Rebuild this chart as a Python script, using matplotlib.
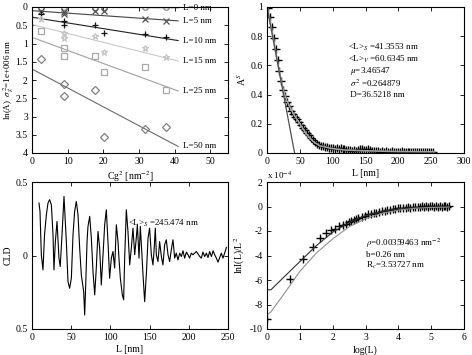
import numpy as np
import matplotlib
matplotlib.use("Agg")
import matplotlib.pyplot as plt

plt.rcParams["font.family"] = ["Liberation Serif", "DejaVu Serif"]
plt.rcParams["mathtext.fontset"] = "stix"
plt.rcParams["font.size"] = 7
plt.rcParams["axes.unicode_minus"] = False
plt.rcParams["axes.linewidth"] = 0.8

# ------------------------------------------------------------------
# top-left: ln(A) vs Cg^2 for several L
cg2 = [2.4, 8.9, 9.1, 17.6, 20.1, 31.7, 37.5]
lnA_L0 = [0.02, 0.03, 0.01, 0.03, 0.02, 0.01, 0.01]
lnA_L5 = [0.10, 0.20, 0.15, 0.10, 0.12, 0.33, 0.38]
lnA_L10 = [0.20, 0.38, 0.50, 0.48, 0.70, 0.75, 0.83]
lnA_L15 = [0.33, 0.70, 0.85, 0.80, 1.22, 1.12, 1.38]
lnA_L25 = [0.67, 1.12, 1.33, 1.33, 1.78, 1.65, 2.28]
lnA_L50 = [1.42, 2.12, 2.43, 2.28, 3.55, 3.35, 3.30]
fit_x = [0, 41]
fit_L0 = [0.00, 0.02]
fit_L5 = [0.10, 0.38]
fit_L10 = [0.28, 0.92]
fit_L15 = [0.48, 1.48]
fit_L25 = [0.83, 2.30]
fit_L50 = [1.70, 3.82]
series_labels = ["L=0 nm", "L=5 nm", "L=10 nm", "L=15 nm", "L=25 nm", "L=50 nm"]

# top-right: A^S(L)
L_as = [1, 4, 7, 10, 13, 16, 19, 22, 25, 28, 31, 34, 37, 40, 43, 46, 49, 52, 55,
        58, 61, 64, 67, 70, 73, 76, 79, 82, 85, 88, 91, 94, 97, 100, 103, 106,
        109, 112, 115, 118, 121, 124, 127, 130, 133, 136, 139, 142, 145, 148,
        151, 154, 157, 160, 163, 166, 169, 172, 175, 178, 181, 184, 187, 190,
        193, 196, 199, 202, 205, 208, 211, 214, 217, 220, 223, 226, 229, 232,
        235, 238, 241, 244, 247, 250, 253]
A_s = [0.99, 0.93, 0.86, 0.79, 0.71, 0.64, 0.56, 0.49, 0.43, 0.39, 0.35, 0.32,
       0.29, 0.27, 0.25, 0.23, 0.21, 0.19, 0.17, 0.155, 0.135, 0.12, 0.105,
       0.09, 0.075, 0.065, 0.055, 0.05, 0.045, 0.042, 0.038, 0.036, 0.033,
       0.031, 0.03, 0.033, 0.028, 0.035, 0.03, 0.025, 0.022, 0.02, 0.018,
       0.017, 0.019, 0.016, 0.02, 0.025, 0.03, 0.022, 0.02, 0.024, 0.018,
       0.015, 0.013, 0.016, 0.012, 0.01, 0.012, 0.009, 0.011, 0.008, 0.01,
       0.012, 0.008, 0.007, 0.01, 0.009, 0.011, 0.008, 0.007, 0.009, 0.006,
       0.008, 0.007, 0.01, 0.006, 0.008, 0.005, 0.007, 0.006, 0.008, 0.005,
       0.007, 0.006]
L_fit = [1, 5, 10, 15, 20, 25, 30, 40, 50, 60, 70, 80, 100, 120, 150, 200, 255]
A_fit = [0.99, 0.9, 0.78, 0.65, 0.53, 0.43, 0.36, 0.27, 0.2, 0.13, 0.08, 0.05,
         0.03, 0.02, 0.015, 0.01, 0.008]
L_tan = [0, 42]
A_tan = [1.0, 0.0]
as_text = [r"<L>$_S$ =41.3553 nm", r"<L>$_V$ =60.6345 nm", r" $\mu$=3.46547",
           r" $\sigma^2$ =0.264879", " D=36.5218 nm"]

# bottom-left: CLD
L_cld = [8.9, 10.2, 11.9, 14.0, 16.0, 18.3, 20.4, 22.5, 24.7, 26.8, 28.0, 29.8,
         31.9, 34.4, 36.0, 38.3, 40.8, 43.8, 45.9, 48.0, 50.2, 52.3, 54.4, 56.5,
         58.7, 60.8, 62.9, 65.9, 67.2, 68.5, 70.2, 71.4, 73.6, 75.7, 77.8, 80.0,
         82.0, 84.2, 86.3, 88.4, 90.6, 92.7, 94.8, 96.9, 99.0, 101.2, 103.3,
         105.4, 107.6, 109.7, 110.9, 112.7, 115.2, 116.9, 118.2, 120.3, 122.4,
         124.6, 126.7, 128.8, 131.0, 133.0, 134.4, 136.5, 138.2, 139.5, 141.6,
         143.7, 145.8, 148.0, 150.0, 152.2, 154.3, 155.6, 157.3, 158.6, 160.7,
         162.8, 165.0, 167.0, 169.2, 171.3, 173.5, 175.6, 177.7, 179.8, 182.0,
         184.0, 186.2, 188.4, 190.5, 192.6, 194.7, 196.9, 199.0, 201.0, 203.2,
         205.3, 209.6, 214.0, 216.0, 218.0, 220.3, 222.4, 224.5, 226.6, 228.8,
         231.0, 233.0, 235.2, 237.3, 239.4, 241.5, 243.6, 245.7, 248.0]
cld = [0.357, 0.30, 0.005, -0.098, 0.141, 0.277, 0.357, 0.38, 0.345, 0.141,
       -0.098, 0.095, 0.232, -0.018, -0.075, 0.141, 0.402, 0.095, -0.177,
       -0.223, -0.155, 0.141, 0.30, 0.368, 0.277, 0.05, -0.132, -0.245, -0.405,
       -0.2, 0.095, 0.198, 0.266, 0.118, -0.109, -0.268, -0.086, 0.164, 0.05,
       -0.2, 0.005, 0.209, 0.311, 0.095, -0.155, -0.018, 0.027, -0.086, 0.209,
       0.095, -0.018, -0.155, -0.268, -0.302, -0.018, 0.311, 0.164, -0.064,
       0.05, 0.186, 0.005, 0.118, 0.209, -0.018, 0.198, 0.073, -0.132, -0.314,
       -0.132, 0.118, 0.186, 0.005, -0.064, 0.027, 0.186, 0.005, -0.041, 0.095,
       -0.007, -0.064, 0.073, 0.107, 0.005, -0.041, 0.039, 0.107, -0.018,
       0.016, -0.03, 0.016, -0.007, 0.032, -0.018, 0.023, 0.005, -0.018, 0.016,
       0.005, 0.027, -0.007, -0.018, 0.023, -0.007, 0.016, -0.014, 0.027,
       -0.007, 0.032, 0.005, -0.018, -0.045, -0.014, 0.016, -0.018, 0.016,
       0.055]
cld_text = r"<L>$_S$ =245.474 nm"

# bottom-right: lnI(L)/L^2 vs log(L), in units of 1e-4
L_br = [1, 2, 3, 4, 5, 6, 7, 8, 9, 10, 11, 12, 13, 14, 15, 16, 18, 20, 22, 24,
        26, 28, 30, 33, 36, 39, 42, 46, 50, 54, 58, 63, 68, 73, 79, 85, 91, 98,
        105, 112, 120, 128, 136, 145, 154, 163, 173, 183, 194, 205, 217, 229,
        242, 255]
lnI_L2 = [-9.2, -5.9, -4.25, -3.3, -2.6, -2.2, -1.95, -1.8, -1.6, -1.5, -1.4,
          -1.3, -1.2, -1.1, -1.0, -0.95, -0.85, -0.75, -0.65, -0.6, -0.55,
          -0.5, -0.45, -0.4, -0.35, -0.3, -0.25, -0.2, -0.2, -0.15, -0.12,
          -0.15, -0.1, -0.08, -0.1, -0.05, -0.08, 0.0, -0.05, 0.02, -0.03,
          0.05, -0.02, 0.03, 0.06, -0.04, 0.04, 0.0, 0.07, -0.02, 0.03, 0.08,
          0.0, 0.02]
logL_model = [0, 0.12, 0.5, 1.0, 1.5, 2.0, 2.5, 3.0, 3.5, 4.0, 4.5, 5.0, 5.55]
model_dark = [-6.8, -6.8, -5.8, -4.5, -3.2, -2.1, -1.3, -0.75, -0.4, -0.18,
              -0.08, -0.04, -0.02]
model_gray = [-8.85, -8.6, -7.2, -5.3, -3.8, -2.65, -1.65, -1.0, -0.55, -0.3,
              -0.15, -0.08, -0.05]
br_text = [r"$\rho$=0.00359463 nm$^{-2}$", "b=0.26 nm", r"R$_c$=3.53727 nm"]

# ------------------------------------------------------------------
fig = plt.figure(figsize=(4.72, 3.55), dpi=100)
W, H = 472.0, 355.0


def make_ax(x0, y0, x1, y1):
    ax = fig.add_axes([x0 / W, 1 - y1 / H, (x1 - x0) / W, (y1 - y0) / H])
    ax.tick_params(direction="in", top=True, right=True, length=3, width=0.6,
                   labelsize=7, pad=3)
    return ax


ax1 = make_ax(32, 7, 228, 153)
ax2 = make_ax(267, 7, 464, 153)
ax3 = make_ax(32, 182, 228, 329)
ax4 = make_ax(267, 182, 464, 329)

# top-left
styles = [("o", "#8c8c8c", "#5a5a5a"), ("x", "#555555", "#444444"),
          ("+", "#111111", "#202020"), ("*", "#c4c4c4", "#c8c8c8"),
          ("s", "#a8a8a8", "#a0a0a0"), ("D", "#808080", "#6a6a6a")]
pts = [lnA_L0, lnA_L5, lnA_L10, lnA_L15, lnA_L25, lnA_L50]
fits = [fit_L0, fit_L5, fit_L10, fit_L15, fit_L25, fit_L50]
for (m, mc, lc), y, f, lab in zip(styles, pts, fits, series_labels):
    ax1.plot(fit_x, f, color=lc, lw=0.8)
    ms = 4 if m in ("o", "s", "D") else 5
    ax1.plot(cg2, y, ls="none", marker=m, ms=ms, mfc="none", mec=mc, mew=0.9)
    ax1.text(42.3, f[1], lab, fontsize=6.5, va="center", ha="left")
ax1.set_xlim(0, 55)
ax1.set_ylim(4, 0)
ax1.set_xticks([0, 10, 20, 30, 40, 50])
ax1.set_yticks([0, 0.5, 1, 1.5, 2, 2.5, 3, 3.5, 4])
ax1.set_yticklabels(["0", "0.5", "1", "1.5", "2", "2.5", "3", "3.5", "4"])
ax1.set_xlabel(r"Cg$^2$ [nm$^{-2}$]", fontsize=7, labelpad=2)
ax1.set_ylabel(r"ln(A)  $\sigma_g^2$=1e+006 nm", fontsize=6.5, labelpad=0)

# top-right
ax2.plot(L_as, A_s, ls="none", marker="+", ms=6, mew=1.0, color="black")
ax2.plot(L_fit, A_fit, color="#a0a0a0", lw=1.2)
ax2.plot(L_tan, A_tan, color="#505050", lw=0.9)
ax2.set_xlim(0, 300)
ax2.set_ylim(0, 1)
ax2.set_xticks([0, 50, 100, 150, 200, 250, 300])
ax2.set_yticks([0, 0.2, 0.4, 0.6, 0.8, 1])
ax2.set_yticklabels(["0", "0.2", "0.4", "0.6", "0.8", "1"])
ax2.set_xlabel("L [nm]", fontsize=7, labelpad=2)
ax2.set_ylabel(r"A$^S$", fontsize=7, labelpad=2)
for i, t in enumerate(as_text):
    ax2.text(0.41, 0.72 - i * 0.08, t, transform=ax2.transAxes, fontsize=6.5,
             va="center")

# bottom-left
ax3.plot(L_cld, cld, color="black", lw=0.8)
ax3.set_xlim(0, 250)
ax3.set_ylim(-0.5, 0.5)
ax3.set_xticks([0, 50, 100, 150, 200, 250])
ax3.set_yticks([-0.5, 0, 0.5])
ax3.set_yticklabels(["0.5", "0", "0.5"])
ax3.set_xlabel("L [nm]", fontsize=7, labelpad=2)
ax3.set_ylabel("CLD", fontsize=7, labelpad=2)
ax3.text(0.49, 0.72, cld_text, transform=ax3.transAxes, fontsize=6.5,
         va="center")

# bottom-right
ax4.plot(np.log(L_br), lnI_L2, ls="none", marker="+", ms=6, mew=1.0,
         color="black")
ax4.plot(logL_model, model_dark, color="#303030", lw=0.8)
ax4.plot(logL_model, model_gray, color="#909090", lw=0.8)
ax4.set_xlim(0, 6)
ax4.set_ylim(-10, 2)
ax4.set_xticks([0, 1, 2, 3, 4, 5, 6])
ax4.set_yticks([-10, -8, -6, -4, -2, 0, 2])
ax4.set_xlabel("log(L)", fontsize=7, labelpad=2)
ax4.set_ylabel(r"lnI(L)/L$^2$", fontsize=7, labelpad=2)
ax4.text(0.0, 1.01, r"x 10$^{-4}$", transform=ax4.transAxes, fontsize=6.5,
         va="bottom", ha="left")
for i, t in enumerate(br_text):
    ax4.text(0.50, 0.58 - i * 0.075, t, transform=ax4.transAxes, fontsize=6.5,
             va="center")

fig.savefig("out.png", dpi=100)
